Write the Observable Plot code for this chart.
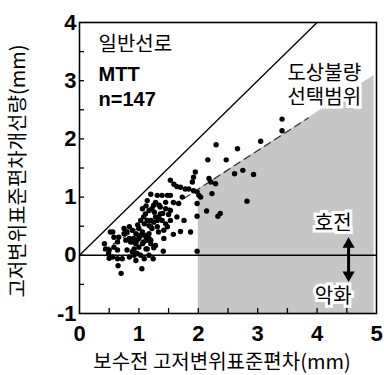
<!DOCTYPE html>
<html>
<head>
<meta charset="utf-8">
<script src="https://cdn.jsdelivr.net/npm/d3@7"></script>
<script src="https://cdn.jsdelivr.net/npm/@observablehq/plot@0.6"></script>
<style>
  html, body { margin: 0; padding: 0; background: white; }
  svg { display: block; }
</style>
</head>
<body>
<div id="chart"></div>
<script>
// ---- data ----
const beforeSD = [
  3.41,3.41,3.05,2.30,2.66,2.16,2.47,2.75,2.61,2.93,
  2.82,2.14,2.37,2.33,1.98,1.98,2.18,2.21,2.29,2.04,
  1.95,1.92,1.90,1.98,1.87,1.70,1.58,1.42,1.41,1.25,
  1.24,1.05,0.70,0.65,1.53,1.59,1.64,1.70,1.78,1.84,
  1.92,1.98,2.01,2.23,1.20,1.39,1.48,1.53,1.31,1.73,
  1.67,1.28,1.25,1.22,1.36,1.17,1.11,1.08,1.06,1.53,
  1.64,1.76,1.28,1.34,1.25,1.20,1.17,1.22,1.45,1.48,
  1.00,1.06,1.03,1.11,0.97,1.08,1.17,1.20,1.28,1.36,
  1.45,1.31,1.39,1.14,1.34,1.53,1.09,1.20,0.75,0.84,
  0.89,0.95,1.00,1.12,1.17,1.20,0.56,0.58,0.64,0.78,
  0.84,0.89,0.95,0.92,1.00,1.06,1.12,0.42,0.44,0.50,
  0.64,0.56,0.64,0.72,0.84,0.89,0.92,1.03,1.09,1.17,
  0.80,0.95,0.52,1.03,1.14,1.31,1.42,1.00,0.91,0.80,
  0.66,0.75,0.86,0.58,0.49,0.50,0.97,1.14,1.14,1.33,
  1.45,1.58,1.26,1.40,1.50,1.12,0.98
];
const improvement = [
  2.34,2.14,1.96,1.90,1.83,1.64,1.64,1.46,1.40,1.39,
  0.93,0.76,0.72,0.67,0.67,0.07,1.32,1.26,1.23,1.00,
  1.43,1.34,1.26,0.89,0.40,0.41,0.36,0.29,0.07,0.13,
  -0.06,-0.23,-0.31,-0.18,1.29,1.22,1.18,1.17,1.14,1.14,
  1.11,1.09,1.03,1.06,1.05,1.03,1.03,1.03,1.03,1.00,
  0.89,0.91,0.86,0.80,0.83,0.77,0.71,0.66,0.80,0.77,
  0.66,0.60,0.66,0.63,0.57,0.60,0.51,0.46,0.54,0.49,
  0.46,0.40,0.34,0.34,0.26,0.23,0.29,0.20,0.17,0.71,
  0.80,0.60,0.60,0.94,0.86,0.60,0.54,0.49,0.46,0.49,
  0.43,0.37,0.34,0.31,0.37,0.26,0.40,0.31,0.23,0.26,
  0.29,0.23,0.20,0.11,0.14,0.20,0.11,0.20,0.11,0.09,
  0.09,-0.03,-0.06,-0.06,-0.03,0.06,0.00,0.00,-0.06,0.00,
  0.09,-0.09,0.40,0.60,0.60,0.49,0.43,0.29,0.29,0.40,
  0.31,0.37,0.23,0.14,0.03,-0.05,0.03,0.11,0.26,0.40,
  0.91,0.91,0.74,0.72,0.70,0.85,0.52
];

const xTicks = [0, 1, 2, 3, 4, 5];
const yTicks = [-1, 0, 1, 2, 3, 4];
const xMinor = [0.5, 1, 1.5, 2, 2.5, 3, 3.5, 4, 4.5];
const yMinor = [-0.5, 0, 0.5, 1, 1.5, 2, 2.5, 3, 3.5];

const xTitle = "보수전 고저변위표준편차(mm)";
const yTitle = "고저변위표준편차개선량(mm)";

// reference lines
const equalLine = [{x: 0, y: 0}, {x: 4, y: 4}];
const dashLine = [{x: 0.4, y: 0.08}, {x: 3.85, y: 2.36}];
const selectRegion = [{x: 2, y: 1.14}, {x: 4.96, y: 3.09}];

// annotations
const krNotes = [{text: "일반선로", x: 0.32, y: 3.62}];
const enNotes = [
  {text: "MTT", x: 0.32, y: 3.10},
  {text: "n=147", x: 0.32, y: 2.68}
];
const boxNotes = [
  {text: "도상불량\n선택범위", x: 4.12, y: 2.94},
  {text: "호전", x: 4.27, y: 0.57},
  {text: "악화", x: 4.27, y: -0.69}
];
const arrowX = [4.53];
const arrowTop = [0.31];
const arrowBottom = [-0.46];

const kr = "'Noto Sans CJK KR', sans-serif";
const en = "'Liberation Sans', Arial, sans-serif";

const chart = Plot.plot({
  width: 384,
  height: 375,
  marginLeft: 79,
  marginRight: 8,
  marginTop: 22,
  marginBottom: 62,
  x: {domain: [0, 5]},
  y: {domain: [-1, 4]},
  style: {fontFamily: en, background: "white", color: "black", overflow: "visible"},
  marks: [
    Plot.areaY(selectRegion, {x: "x", y1: () => -1, y2: "y", fill: "#c6c6c6"}),
    Plot.ruleY([0], {stroke: "black", strokeWidth: 1.6}),
    Plot.line(equalLine, {x: "x", y: "y", stroke: "black", strokeWidth: 1.3}),
    Plot.line(dashLine, {x: "x", y: "y", stroke: "#333", strokeWidth: 1.2, strokeDasharray: "7,5"}),
    Plot.ruleX(xMinor, {insetTop: 286, stroke: "black", strokeWidth: 1.3}),
    Plot.ruleY(yMinor, {insetRight: 292, stroke: "black", strokeWidth: 1.3}),
    Plot.dot(beforeSD, {x: (d) => d, y: (d, i) => improvement[i], r: 2.7, fill: "black", stroke: "none"}),
    Plot.text(krNotes, {x: "x", y: "y", text: "text", textAnchor: "start", fontSize: 20, fontFamily: kr}),
    Plot.text(enNotes, {x: "x", y: "y", text: "text", textAnchor: "start", fontSize: 20, fontWeight: "bold", fontFamily: en}),
    Plot.text(boxNotes, {x: "x", y: "y", text: "text", fontSize: 20, lineHeight: 1.2, fontFamily: kr, fill: "black", stroke: "white", strokeWidth: 6, strokeLinejoin: "miter"}),
    Plot.ruleX(arrowX, {y1: arrowTop, y2: arrowBottom, stroke: "black", strokeWidth: 3, insetTop: 8, insetBottom: 8}),
    Plot.dot(arrowX, {x: (d) => d, y: arrowTop, symbol: "triangle", r: 4.5, fill: "black", stroke: "none", dy: 7}),
    Plot.dot(arrowX, {x: (d) => d, y: arrowBottom, symbol: "triangle", r: 4.5, fill: "black", stroke: "none", dy: -7, rotate: 180}),
    Plot.frame({stroke: "black", strokeWidth: 1.6}),
    Plot.axisX(xTicks, {tickSize: 0, tickPadding: 12, fontSize: 22, fontWeight: "bold", label: null, tickFormat: (d) => String(d)}),
    Plot.axisY(yTicks, {tickSize: 0, tickPadding: 3, fontSize: 22, fontWeight: "bold", label: null, tickFormat: (d) => String(d)}),
    Plot.text([xTitle], {frameAnchor: "bottom", textAnchor: "middle", lineAnchor: "middle", dy: 49, dx: -6, fontSize: 20, fontFamily: kr}),
    Plot.text([yTitle], {frameAnchor: "left", textAnchor: "middle", lineAnchor: "middle", dx: -61, dy: 3, rotate: -90, fontSize: 20, fontFamily: kr})
  ]
});
document.getElementById("chart").appendChild(chart);
</script>
</body>
</html>
